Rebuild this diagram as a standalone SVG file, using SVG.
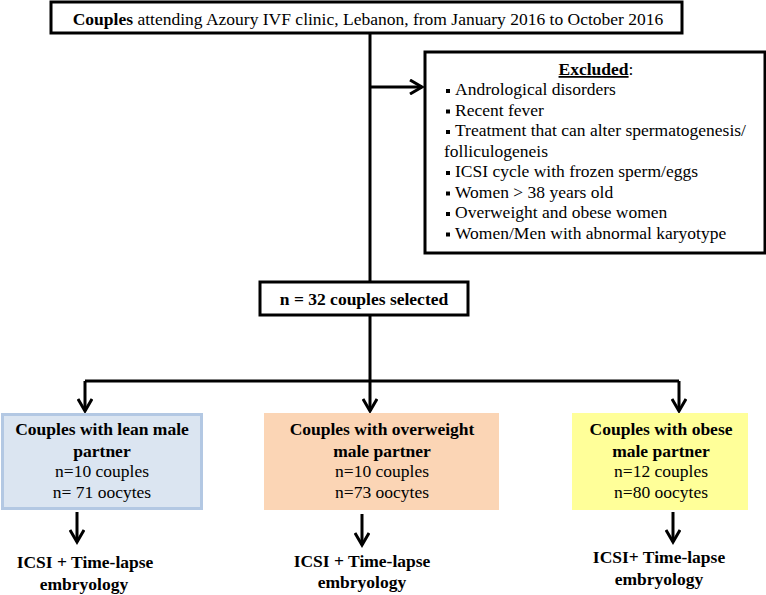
<svg xmlns="http://www.w3.org/2000/svg" width="766" height="595" viewBox="0 0 766 595">
<style>
  text { font-family: 'Liberation Serif', Tinos, 'Times New Roman', Times, serif; font-size: 17.5px; fill: #000; }
  .b { font-weight: bold; }
  .c { text-anchor: middle; }
  .box { fill: #fff; stroke: #000; stroke-width: 3; }
  .ln { fill: none; stroke: #000; stroke-width: 3; }
</style>
<defs>
  <marker id="chev" viewBox="0 0 16 16" markerWidth="16" markerHeight="16" markerUnits="userSpaceOnUse" refX="13" refY="8" orient="auto">
    <path d="M1,1 L13,8 L1,15" fill="none" stroke="#000" stroke-width="3"/>
  </marker>
</defs>

<g id="connectors">
  <path class="ln" d="M370,33 V282"/>
  <path class="ln" d="M370,87 H422" marker-end="url(#chev)"/>
  <path class="ln" d="M370,315 V411" marker-end="url(#chev)"/>
  <path class="ln" d="M85,381 H679"/>
  <path class="ln" d="M85,381 V411" marker-end="url(#chev)"/>
  <path class="ln" d="M679,381 V411" marker-end="url(#chev)"/>
  <path class="ln" d="M77,512 V542" marker-end="url(#chev)"/>
  <path class="ln" d="M362,514 V545" marker-end="url(#chev)"/>
  <path class="ln" d="M673,512 V542" marker-end="url(#chev)"/>
</g>

<g id="top">
  <rect class="box" x="51" y="2" width="631" height="31"/>
  <text class="c" x="368" y="25"><tspan class="b">Couples</tspan> attending Azoury IVF clinic, Lebanon, from January 2016 to October 2016</text>
</g>

<g id="excluded">
  <rect class="box" x="425" y="52" width="340" height="201"/>
  <text x="596" y="75" class="c"><tspan class="b" text-decoration="underline">Excluded</tspan>:</text>
  <g fill="#000">
    <rect x="446" y="89" width="4" height="4"/>
    <rect x="446" y="109.5" width="4" height="4"/>
    <rect x="446" y="130" width="4" height="4"/>
    <rect x="446" y="171" width="4" height="4"/>
    <rect x="446" y="191.5" width="4" height="4"/>
    <rect x="446" y="212" width="4" height="4"/>
    <rect x="446" y="232.5" width="4" height="4"/>
  </g>
  <text x="455" y="95">Andrological disorders</text>
  <text x="455" y="115.5">Recent fever</text>
  <text x="455" y="136">Treatment that can alter spermatogenesis/</text>
  <text x="444" y="156.5">folliculogeneis</text>
  <text x="455" y="177">ICSI cycle with frozen sperm/eggs</text>
  <text x="455" y="197.5">Women &gt; 38 years old</text>
  <text x="455" y="218">Overweight and obese women</text>
  <text x="455" y="238.5">Women/Men with abnormal karyotype</text>
</g>

<g id="selected">
  <rect class="box" x="260" y="282" width="208" height="33"/>
  <text class="c b" x="364" y="305">n = 32 couples selected</text>
</g>

<g id="lean">
  <rect x="2.5" y="414.5" width="199" height="94" fill="#dbe5f1" stroke="#b3c8e3" stroke-width="3"/>
  <text class="c b" x="102" y="435">Couples with lean male</text>
  <text class="c b" x="102" y="456.5">partner</text>
  <text class="c" x="102" y="477">n=10 couples</text>
  <text class="c" x="102" y="498">n= 71 oocytes</text>
</g>

<g id="overweight">
  <rect x="264" y="413" width="235" height="97" fill="#fbd5b5"/>
  <text class="c b" x="382" y="435">Couples with overweight</text>
  <text class="c b" x="382" y="456.5">male partner</text>
  <text class="c" x="382" y="477">n=10 couples</text>
  <text class="c" x="382" y="498">n=73 oocytes</text>
</g>

<g id="obese">
  <rect x="572" y="413" width="176" height="97" fill="#ffff99"/>
  <text class="c b" x="661" y="435">Couples with obese</text>
  <text class="c b" x="661" y="456.5">male partner</text>
  <text class="c" x="661" y="477">n=12 couples</text>
  <text class="c" x="661" y="498">n=80 oocytes</text>
</g>

<g id="out-lean">
  <text class="c b" x="85" y="568">ICSI + Time-lapse</text>
  <text class="c b" x="84" y="590">embryology</text>
</g>
<g id="out-overweight">
  <text class="c b" x="362" y="567">ICSI + Time-lapse</text>
  <text class="c b" x="362" y="588">embryology</text>
</g>
<g id="out-obese">
  <text class="c b" x="659" y="563">ICSI+ Time-lapse</text>
  <text class="c b" x="659" y="585">embryology</text>
</g>
</svg>
